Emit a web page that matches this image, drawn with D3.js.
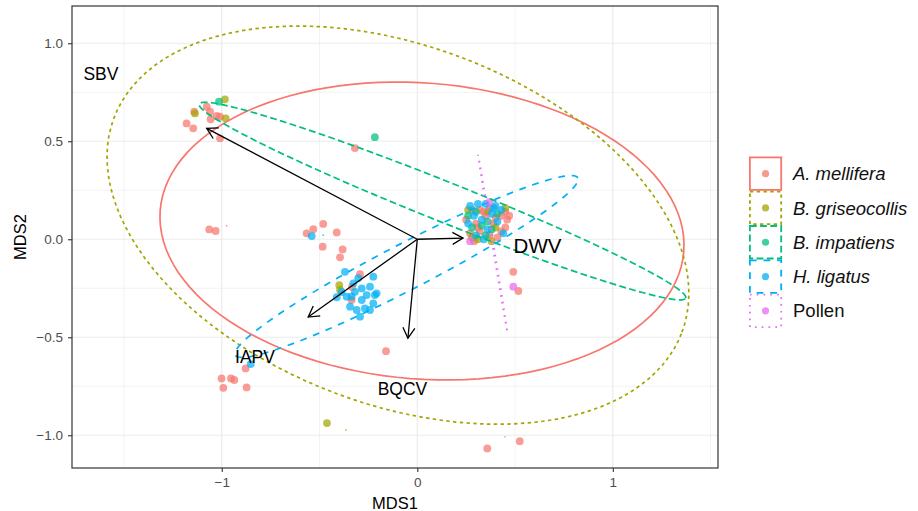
<!DOCTYPE html>
<html>
<head>
<meta charset="utf-8">
<script src="https://cdn.jsdelivr.net/npm/d3@7"></script>
<style>
  body { margin: 0; background: #fff; }
  svg { display: block; }
  text { font-family: "Liberation Sans", Arial, sans-serif; }
</style>
</head>
<body>
<svg id="chart" width="918" height="511"></svg>
<script>
const species = ['A. mellifera', 'B. griseocollis', 'B. impatiens', 'H. ligatus', 'Pollen'];
const colors = ['#F8766D', '#A3A500', '#00BF7D', '#00B0F6', '#E76BF3'];

// sample scores [MDS1, MDS2] by host
const mellifera = [
  [-1.180, 0.591], [-1.146, 0.566], [-1.077, 0.676], [-1.060, 0.651], [-1.057, 0.612],
  [-1.026, 0.629], [-1.009, 0.625], [-1.009, 0.515], [-1.141, 0.651],
  [-1.064, 0.050], [-1.031, 0.042], [-0.319, 0.465], [-0.160, -0.571],
  [0.358, -1.067], [0.524, -1.030], [0.491, -0.166], [0.517, -0.264],
  [-0.878, -0.659], [-1.001, -0.710], [-0.953, -0.710], [-0.936, -0.718],
  [-0.992, -0.758], [-0.873, -0.756],
  [-0.566, 0.030], [-0.532, 0.051], [-0.481, 0.078], [-0.412, 0.035],
  [-0.484, -0.038], [-0.382, -0.052], [-0.395, -0.092],
  [-0.293, -0.178], [-0.336, -0.310], [-0.334, -0.243],
  [0.28, 0.15], [0.32, 0.15], [0.37, 0.16], [0.43, 0.12], [0.46, 0.10], [0.45, 0.06],
  [0.30, 0.08], [0.35, 0.12], [0.39, 0.08], [0.27, 0.03], [0.32, 0.04], [0.37, 0.02],
  [0.41, 0.01], [0.29, -0.01], [0.34, 0.14], [0.40, 0.11], [0.45, 0.14], [0.31, 0.06],
  [0.43, 0.04], [0.25, 0.10], [0.47, 0.12]
];
const griseocollis = [
  [-1.137, 0.642], [-0.984, 0.714], [-0.980, 0.617], [-0.462, -0.938],
  [-0.399, -0.234], [-0.395, -0.259],
  [0.26, 0.15], [0.45, 0.16], [0.28, 0.01], [0.31, 0.00], [0.38, -0.01],
  [0.36, 0.14], [0.40, 0.06]
];
const impatiens = [
  [-1.014, 0.702], [-0.217, 0.521],
  [0.26, 0.12], [0.30, 0.14], [0.36, 0.09], [0.33, 0.07], [0.38, 0.05],
  [0.28, 0.06], [0.41, 0.13], [0.35, 0.02]
];
const ligatus = [
  [-0.852, -0.637], [-0.540, 0.016],
  [-0.370, -0.166], [-0.302, -0.199], [-0.225, -0.191], [-0.327, -0.225],
  [-0.284, -0.251], [-0.242, -0.242], [-0.361, -0.293], [-0.412, -0.296],
  [-0.284, -0.310], [-0.217, -0.285], [-0.268, -0.353], [-0.310, -0.361],
  [-0.242, -0.361], [-0.344, -0.344], [-0.293, -0.395], [-0.319, -0.268],
  [-0.259, -0.285], [-0.208, -0.276], [-0.336, -0.293], [-0.225, -0.327],
  [-0.387, -0.269],
  [0.27, 0.17], [0.31, 0.18], [0.35, 0.18], [0.40, 0.17], [0.43, 0.15],
  [0.29, 0.12], [0.33, 0.10], [0.38, 0.13], [0.41, 0.09], [0.36, 0.05],
  [0.30, 0.02], [0.34, 0.00], [0.44, 0.03], [0.39, 0.16], [0.26, 0.08]
];
const pollen = [[0.491, -0.242], [0.37, 0.19], [0.27, -0.01]];

// the few tiny specks: [host index, MDS1, MDS2]
const specks = [[0, -0.975, 0.069], [3, -0.481, 0.021], [1, -0.365, -0.973], [0, 0.449, -1.008]];

// 95% ellipses: [centre MDS1, centre MDS2, semi-major, semi-minor, angle deg]
const ellipses = [
  [0.024, 0.042, 1.343, 0.755, -4.5],
  [-0.099, 0.072, 1.552, 0.915, -20.6],
  [0.129, 0.195, 1.339, 0.102, -21.7],
  [-0.055, -0.139, 0.986, 0.117, 27.3],
  [0.385, -0.017, 0.453, 0.003, -80.6]
];

// fitted virus vectors and their labels
const vectors = [['SBV', -1.077, 0.566], ['DWV', 0.234, 0.006], ['IAPV', -0.558, -0.397], ['BQCV', -0.048, -0.505]];
const vectorLabels = [['SBV', -1.618, 0.812], ['DWV', 0.615, -0.069], ['IAPV', -0.830, -0.633], ['BQCV', -0.076, -0.795]];

const xTicks = [-1, 0, 1];
const yTicks = [-1, -0.5, 0, 0.5, 1];
const xMinor = [-1.5, -0.5, 0.5, 1.5];
const yMinor = [-0.75, -0.25, 0.25, 0.75];

const lwd = 1.7;
const dashes = [null, [2, 2], [4, 2], [4, 4], [1, 3]].map(p => p && p.map(v => v * lwd).join(','));

const svg = d3.select('#chart');
const panel = { left: 72, right: 718, top: 6, bottom: 468 };

const x = d3.scaleLinear().domain([-1.766, 1.538]).range([panel.left, panel.right]);
const y = d3.scaleLinear().domain([-1.167, 1.19]).range([panel.bottom, panel.top]);

// grid
const grid = svg.append('g').attr('stroke', '#EBEBEB');
grid.selectAll('.xmin').data(xMinor).enter().append('line')
  .attr('x1', d => x(d)).attr('x2', d => x(d)).attr('y1', panel.top).attr('y2', panel.bottom)
  .attr('stroke-width', 0.6);
grid.selectAll('.ymin').data(yMinor).enter().append('line')
  .attr('y1', d => y(d)).attr('y2', d => y(d)).attr('x1', panel.left).attr('x2', panel.right)
  .attr('stroke-width', 0.6);
grid.selectAll('.xmaj').data(xTicks).enter().append('line')
  .attr('x1', d => x(d)).attr('x2', d => x(d)).attr('y1', panel.top).attr('y2', panel.bottom)
  .attr('stroke-width', 1.2);
grid.selectAll('.ymaj').data(yTicks).enter().append('line')
  .attr('y1', d => y(d)).attr('y2', d => y(d)).attr('x1', panel.left).attr('x2', panel.right)
  .attr('stroke-width', 1.2);

// points
const groups = [mellifera, griseocollis, impatiens, ligatus, pollen];
groups.forEach((pts, i) => {
  svg.append('g')
    .selectAll('circle')
    .data(pts)
    .enter()
    .append('circle')
    .attr('cx', d => x(d[0]))
    .attr('cy', d => y(d[1]))
    .attr('r', 3.9)
    .attr('fill', colors[i])
    .attr('fill-opacity', 0.72);
});

svg.append('g')
  .selectAll('circle')
  .data(specks)
  .enter()
  .append('circle')
  .attr('cx', d => x(d[1]))
  .attr('cy', d => y(d[2]))
  .attr('r', 0.9)
  .attr('fill', d => colors[d[0]])
  .attr('fill-opacity', 0.7);

// ellipses
const line = d3.line().x(d => x(d[0])).y(d => y(d[1])).curve(d3.curveLinearClosed);
const steps = d3.range(0, 2 * Math.PI, Math.PI / 60);

ellipses.forEach((e, i) => {
  const [cx, cy, a, b, deg] = e;
  const th = deg * Math.PI / 180;
  const path = steps.map(t => [
    cx + a * Math.cos(t) * Math.cos(th) - b * Math.sin(t) * Math.sin(th),
    cy + a * Math.cos(t) * Math.sin(th) + b * Math.sin(t) * Math.cos(th)
  ]);
  svg.append('path')
    .attr('d', line(path))
    .attr('fill', 'none')
    .attr('stroke', colors[i])
    .attr('stroke-width', lwd)
    .attr('stroke-dasharray', dashes[i]);
});

// vectors
svg.append('defs').append('marker')
  .attr('id', 'head')
  .attr('viewBox', '-12 -7 14 14')
  .attr('refX', 0).attr('refY', 0)
  .attr('markerWidth', 14).attr('markerHeight', 14)
  .attr('markerUnits', 'userSpaceOnUse')
  .attr('orient', 'auto')
  .append('path')
  .attr('d', 'M-10.5,-6L0,0L-10.5,6')
  .attr('fill', 'none')
  .attr('stroke', '#000')
  .attr('stroke-width', 1.3);

svg.append('g')
  .selectAll('line')
  .data(vectors)
  .enter()
  .append('line')
  .attr('x1', x(0)).attr('y1', y(0))
  .attr('x2', d => x(d[1])).attr('y2', d => y(d[2]))
  .attr('stroke', '#000')
  .attr('stroke-width', 1.3)
  .attr('marker-end', 'url(#head)');

svg.append('g')
  .selectAll('text')
  .data(vectorLabels)
  .enter()
  .append('text')
  .attr('x', d => x(d[1]))
  .attr('y', d => y(d[2]))
  .attr('text-anchor', 'middle')
  .attr('font-size', d => d[0] === 'DWV' ? 20.5 : 17.5)
  .attr('fill', '#000')
  .text(d => d[0]);

// panel border
svg.append('rect')
  .attr('x', panel.left).attr('y', panel.top)
  .attr('width', panel.right - panel.left).attr('height', panel.bottom - panel.top)
  .attr('fill', 'none')
  .attr('stroke', '#333333')
  .attr('stroke-width', 1.2);

// axes
const xAxis = svg.append('g')
  .attr('transform', `translate(0,${panel.bottom})`)
  .call(d3.axisBottom(x).tickValues(xTicks).tickSize(4).tickPadding(5).tickFormat(d3.format('d')));
const yAxis = svg.append('g')
  .attr('transform', `translate(${panel.left},0)`)
  .call(d3.axisLeft(y).tickValues(yTicks).tickSize(4).tickPadding(5).tickFormat(d3.format('.1f')));

[xAxis, yAxis].forEach(ax => {
  ax.select('.domain').remove();
  ax.selectAll('.tick line').attr('stroke', '#333333').attr('stroke-width', 1.1);
  ax.selectAll('.tick text')
    .attr('fill', '#4D4D4D')
    .attr('font-size', 13.5)
    .attr('font-family', '"Liberation Sans", Arial, sans-serif');
});

svg.append('text')
  .attr('x', (panel.left + panel.right) / 2)
  .attr('y', 509)
  .attr('text-anchor', 'middle')
  .attr('font-size', 16.5)
  .text('MDS1');

svg.append('text')
  .attr('transform', `translate(26,${(panel.top + panel.bottom) / 2}) rotate(-90)`)
  .attr('text-anchor', 'middle')
  .attr('font-size', 16.5)
  .text('MDS2');

// legend
const keyH = 34.3;
const legend = svg.append('g').attr('transform', 'translate(749,156.5)');
const keys = legend.selectAll('g')
  .data(species)
  .enter()
  .append('g')
  .attr('transform', (d, i) => `translate(0,${i * keyH})`);

keys.append('rect')
  .attr('x', 0.9).attr('y', 0.9)
  .attr('width', 31.3).attr('height', keyH - 1.8)
  .attr('fill', 'none')
  .attr('stroke', (d, i) => colors[i])
  .attr('stroke-width', 1.8)
  .attr('stroke-dasharray', (d, i) => dashes[i]);

keys.append('circle')
  .attr('cx', 16.5).attr('cy', keyH / 2)
  .attr('r', 3.6)
  .attr('fill', (d, i) => colors[i])
  .attr('fill-opacity', 0.75);

keys.append('text')
  .attr('x', 44)
  .attr('y', keyH / 2)
  .attr('dy', '0.36em')
  .attr('font-family', '"Open Sans", sans-serif')
  .attr('font-size', 18.5)
  .attr('font-style', d => d === 'Pollen' ? 'normal' : 'italic')
  .attr('fill', '#111')
  .text(d => d);
</script>
</body>
</html>
